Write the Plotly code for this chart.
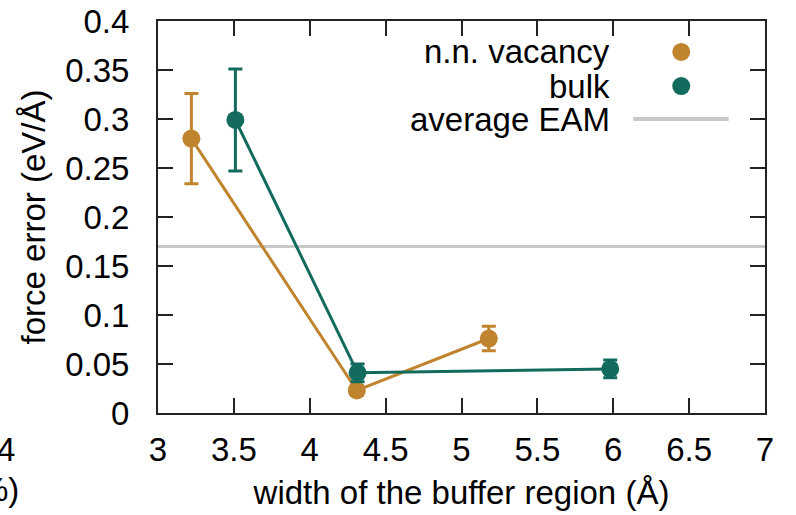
import plotly.graph_objects as go

# buffer width (Å) and force error (eV/Å)
vac_x = [3.22, 4.31, 5.18]
vac_y = [0.280, 0.023, 0.076]
vac_err = [0.046, 0.005, 0.0125]

bulk_x = [3.51, 4.315, 5.98]
bulk_y = [0.299, 0.041, 0.045]
bulk_err = [0.052, 0.009, 0.009]

eam_avg = 0.17

x_ticks = [3, 3.5, 4, 4.5, 5, 5.5, 6, 6.5, 7]
x_tick_text = ["3", "3.5", "4", "4.5", "5", "5.5", "6", "6.5", "7"]
y_ticks = [0, 0.05, 0.1, 0.15, 0.2, 0.25, 0.3, 0.35, 0.4]
y_tick_text = ["0", "0.05", "0.1", "0.15", "0.2", "0.25", "0.3", "0.35", "0.4"]

ORANGE = "#c0832e"
TEAL = "#136b5e"
GREY = "#c8c8c8"
AXIS = "#222222"
FONT = "Liberation Sans, Arial, sans-serif"
FS = 33

fig = go.Figure()

# horizontal reference line
fig.add_trace(go.Scatter(
    x=[3, 7], y=[eam_avg, eam_avg], mode="lines",
    line=dict(color=GREY, width=3), showlegend=False, hoverinfo="skip"))

for xs, ys, es, col in [(vac_x, vac_y, vac_err, ORANGE),
                        (bulk_x, bulk_y, bulk_err, TEAL)]:
    fig.add_trace(go.Scatter(
        x=xs, y=ys, mode="lines+markers",
        line=dict(color=col, width=3),
        marker=dict(color=col, size=18),
        error_y=dict(type="data", array=es, color=col, thickness=3, width=7),
        showlegend=False))

# legend drawn gnuplot-style: text right-aligned, key on the right
leg_text_x = 0.748
leg_rows = [("n.n. vacancy", 0.921, ORANGE, "dot"),
            ("bulk", 0.834, TEAL, "dot"),
            ("average EAM", 0.750, GREY, "line")]
for label, yy, col, kind in leg_rows:
    fig.add_annotation(x=leg_text_x, y=yy, xref="paper", yref="paper",
                       text=label, showarrow=False, xanchor="right",
                       yanchor="middle",
                       font=dict(family=FONT, size=FS, color="black"))
    if kind == "dot":
        fig.add_trace(go.Scatter(x=[0.862], y=[yy], xaxis="x2", yaxis="y2",
                                 mode="markers",
                                 marker=dict(color=col, size=18),
                                 showlegend=False, hoverinfo="skip"))
    else:
        fig.add_trace(go.Scatter(x=[0.783, 0.940], y=[yy, yy],
                                 xaxis="x2", yaxis="y2", mode="lines",
                                 line=dict(color=col, width=4),
                                 showlegend=False, hoverinfo="skip"))

# fragments of the neighbouring panel's labels
fig.add_annotation(x=-0.232, y=-0.093, xref="paper", yref="paper", text="4",
                   showarrow=False, xanchor="right", yanchor="middle",
                   font=dict(family=FONT, size=FS, color="black"))
fig.add_annotation(x=-0.225, y=-0.195, xref="paper", yref="paper", text="%)",
                   showarrow=False, xanchor="right", yanchor="middle",
                   font=dict(family=FONT, size=FS, color="black"))

axis_common = dict(
    showline=True, linecolor=AXIS, linewidth=2, mirror="ticks",
    ticks="inside", ticklen=15, tickwidth=2, tickcolor=AXIS,
    showgrid=False, zeroline=False, automargin=False,
    tickfont=dict(family=FONT, size=FS, color="black"),
)

fig.update_layout(
    width=796, height=515,
    margin=dict(l=158, r=31, t=21, b=102),
    paper_bgcolor="white", plot_bgcolor="white",
    font=dict(family=FONT, size=FS, color="black"),
    xaxis=dict(range=[3, 7], tickvals=x_ticks, ticktext=x_tick_text,
               ticklabelstandoff=6,
               title=dict(text="width of the buffer region (Å)",
                          font=dict(family=FONT, size=FS), standoff=14),
               **axis_common),
    yaxis=dict(range=[0, 0.4], tickvals=y_ticks, ticktext=y_tick_text,
               ticklabelstandoff=20,
               title=dict(text="force error (eV/Å)",
                          font=dict(family=FONT, size=FS), standoff=10),
               **axis_common),
    xaxis2=dict(range=[0, 1], overlaying="x", visible=False),
    yaxis2=dict(range=[0, 1], overlaying="y", visible=False),
    showlegend=False,
)

fig.write_html("out.html")
